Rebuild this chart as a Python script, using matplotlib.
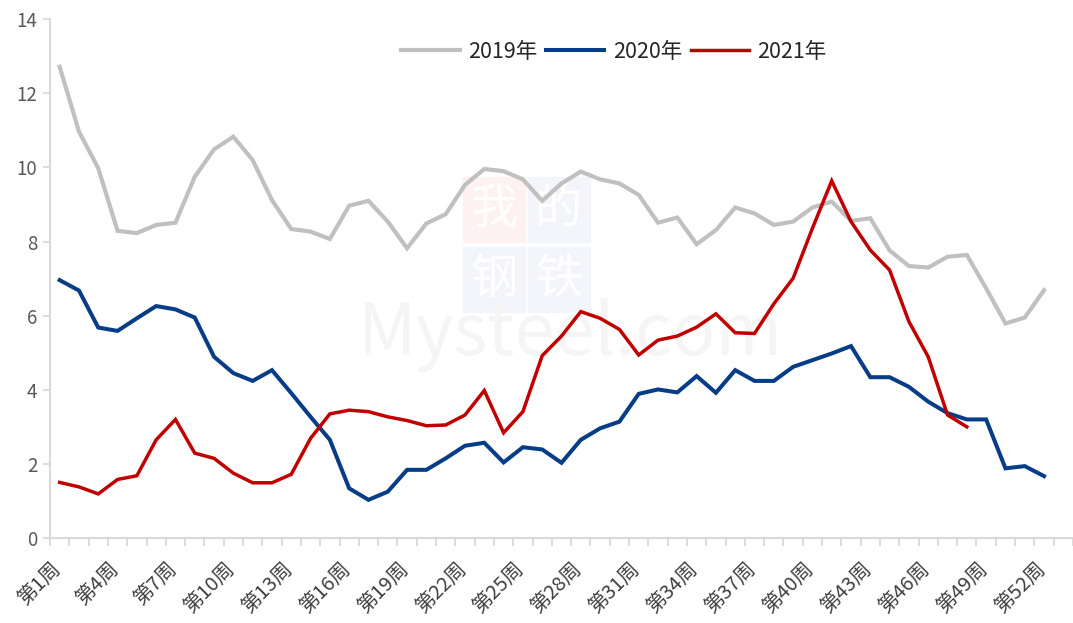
import matplotlib
matplotlib.use("Agg")
import matplotlib.pyplot as plt
import matplotlib.transforms as mtransforms
from matplotlib.patches import Rectangle
from matplotlib.ticker import FixedLocator

plt.rcParams["font.family"] = ["Noto Sans CJK SC", "DejaVu Sans"]

weeks = list(range(1, 54))
tick_weeks = list(range(1, 53, 3))
tick_labels = [f"第{w}周" for w in tick_weeks]

# 2019
v2019 = [12.72, 10.97, 9.98, 8.29, 8.23, 8.45, 8.51, 9.75, 10.49, 10.83,
         10.20, 9.12, 8.34, 8.27, 8.07, 8.97, 9.10, 8.54, 7.82, 8.49,
         8.74, 9.53, 9.96, 9.90, 9.68, 9.10, 9.57, 9.89, 9.68, 9.57,
         9.26, 8.51, 8.65, 7.93, 8.31, 8.92, 8.76, 8.45, 8.54, 8.92,
         9.08, 8.56, 8.63, 7.76, 7.34, 7.30, 7.59, 7.64, 6.74, 5.79,
         5.95, 6.69]
# 2020
v2020 = [6.96, 6.68, 5.68, 5.59, 5.93, 6.26, 6.17, 5.95, 4.89, 4.45,
         4.24, 4.53, 3.91, 3.27, 2.65, 1.34, 1.03, 1.25, 1.84, 1.84,
         2.15, 2.49, 2.57, 2.04, 2.45, 2.39, 2.03, 2.65, 2.96, 3.14,
         3.89, 4.01, 3.93, 4.37, 3.92, 4.53, 4.24, 4.24, 4.62, 4.80,
         4.98, 5.18, 4.34, 4.34, 4.08, 3.68, 3.37, 3.20, 3.20, 1.88,
         1.94, 1.67]
# 2021
v2021 = [1.50, 1.38, 1.19, 1.58, 1.68, 2.65, 3.20, 2.29, 2.15, 1.75,
         1.49, 1.49, 1.72, 2.69, 3.35, 3.45, 3.41, 3.27, 3.17, 3.03,
         3.05, 3.32, 3.98, 2.84, 3.41, 4.92, 5.45, 6.11, 5.93, 5.63,
         4.94, 5.34, 5.45, 5.69, 6.05, 5.54, 5.52, 6.32, 7.01, 8.36,
         9.64, 8.54, 7.77, 7.23, 5.84, 4.89, 3.32, 3.00]

W, H = 1073, 623
fig = plt.figure(figsize=(W / 100, H / 100), dpi=100)
ax = fig.add_axes([50 / W, 85 / H, 1023 / W, 518.7 / H])
ax.set_zorder(2)

# faint watermark behind the axes
wm_col = {"r": "#fdf1f1", "b": "#f3f5fa"}
for (x0, y0, c, ch) in [(463, 177, "r", "我"), (528, 177, "b", "的"),
                        (463, 247, "b", "钢"), (528, 247, "b", "铁")]:
    fig.patches.append(Rectangle((x0 / W, 1 - (y0 + 65) / H), 62 / W, 65 / H,
                                 transform=fig.transFigure, color=wm_col[c],
                                 zorder=0))
    fig.text((x0 + 31) / W, 1 - (y0 + 33) / H, ch, fontsize=34, color="white",
             ha="center", va="center", zorder=0.5)
fig.text(570 / W, 1 - 335 / H, "Mysteel.com", fontsize=52,
         color="#f5f5f5", ha="center", va="center", zorder=0.4)

ax.patch.set_alpha(0)
ax.plot(weeks[:len(v2019)], v2019, color="#c0c0c0", lw=3.0, label="2019年",
        solid_joinstyle="miter")
ax.plot(weeks[:len(v2020)], v2020, color="#073c86", lw=2.9, label="2020年",
        solid_joinstyle="miter")
ax.plot(weeks[:len(v2021)], v2021, color="#c00000", lw=2.5, label="2021年",
        solid_joinstyle="miter")

ax.set_xlim(0.5, 53.5)
ax.set_ylim(0, 14)
ax.set_yticks(range(0, 15, 2))
ax.tick_params(axis="y", length=5, width=1.3, color="#d9d9d9",
               labelsize=13.5, labelcolor="#595959", pad=4)

ax.set_xticks(tick_weeks)
ax.set_xticklabels(tick_labels, rotation=45, ha="right", va="top",
                   rotation_mode="anchor", fontsize=14.5, color="#404040")
ax.tick_params(axis="x", which="major", length=0, pad=15)
shift = mtransforms.ScaledTranslation(-9 / 100, 0, fig.dpi_scale_trans)
for lbl in ax.get_xticklabels():
    lbl.set_transform(lbl.get_transform() + shift)
ax.xaxis.set_minor_locator(FixedLocator([k + 0.5 for k in range(0, 54)]))
ax.tick_params(axis="x", which="minor", length=6, width=1.3, color="#d9d9d9")

for s in ["top", "right"]:
    ax.spines[s].set_visible(False)
for s in ["left", "bottom"]:
    ax.spines[s].set_color("#d9d9d9")
    ax.spines[s].set_linewidth(1.5)

leg = ax.legend(loc="center", bbox_to_anchor=(614 / W, 1 - 52 / H),
                bbox_transform=fig.transFigure, ncol=3, frameon=False,
                fontsize=15.5, handlelength=2.7, handletextpad=0.4,
                columnspacing=0.4)
for t in leg.get_texts():
    t.set_color("#262626")

fig.savefig("out.png", dpi=100)
